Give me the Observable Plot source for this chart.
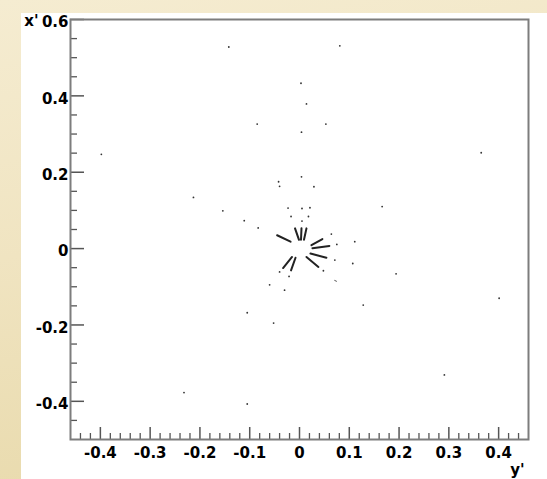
<!DOCTYPE html>
<html>
<head>
<meta charset="utf-8">
<script src="https://cdn.jsdelivr.net/npm/d3@7"></script>
<script src="https://cdn.jsdelivr.net/npm/@observablehq/plot@0.6"></script>
<style>
  html, body { margin: 0; padding: 0; }
  body { width: 547px; height: 479px; position: relative; overflow: hidden;
         background: linear-gradient(170deg, #f5ecd1 0%, #f0e4c1 45%, #e7d8a8 100%); }
  #panel { position: absolute; left: 21px; top: 13px; width: 526px; height: 466px; background: #fff; }
  #chart { position: absolute; left: 0; top: 0; }
</style>
</head>
<body>
<div id="panel"></div>
<div id="chart"></div>
<script>
// Axis ticks and labels
const xTicks = [-0.4, -0.3, -0.2, -0.1, 0, 0.1, 0.2, 0.3, 0.4];
const xTickLabels = ["-0.4", "-0.3", "-0.2", "-0.1", "0", "0.1", "0.2", "0.3", "0.4"];
const yTicks = [-0.4, -0.2, 0, 0.2, 0.4, 0.6];
const yTickLabels = ["-0.4", "-0.2", "0", "0.2", "0.4", "0.6"];
const xMinor = d3.range(-22, 23).filter(i => i % 5 !== 0).map(i => i * 0.02);
const yMinor = d3.range(-9, 12).filter(i => i % 4 !== 0).map(i => i * 0.05);

// Single hits (y' horizontal, x' vertical)
const hitY = [-0.142, 0.081, 0.003, 0.014, -0.085, 0.053, -0.398, 0.365, 0.004, 0.004,
              -0.042, -0.040, 0.029, -0.213, -0.154, -0.111, -0.083, 0.166, -0.023, 0.005,
              0.021, -0.017, 0.018, 0.005, 0.064, 0.075, 0.111, 0.071, 0.107, 0.048,
              -0.040, -0.021, -0.060, -0.030, 0.128, -0.105, -0.052, 0.194, 0.401, 0.291,
              -0.232, -0.105];
const hitX = [0.528, 0.531, 0.433, 0.379, 0.326, 0.326, 0.247, 0.251, 0.305, 0.188,
              0.175, 0.163, 0.162, 0.134, 0.099, 0.073, 0.054, 0.110, 0.106, 0.105,
              0.107, 0.084, 0.084, 0.072, 0.038, 0.011, 0.018, -0.030, -0.039, -0.058,
              -0.061, -0.073, -0.095, -0.109, -0.148, -0.168, -0.195, -0.066, -0.130, -0.331,
              -0.377, -0.407];

// Short track segments around the origin
const trackY1 = [-0.045, -0.009, 0.004, 0.014, 0.046, 0.060, 0.054, 0.038, -0.015, -0.008];
const trackX1 = [0.035, 0.053, 0.053, 0.053, 0.025, 0.007, -0.024, -0.048, -0.022, -0.024];
const trackY2 = [-0.018, -0.001, 0.003, 0.009, 0.024, 0.026, 0.022, 0.014, -0.033, -0.017];
const trackX2 = [0.018, 0.023, 0.023, 0.023, 0.009, 0.001, -0.013, -0.022, -0.051, -0.057];

// Very short stub
const stubY1 = [0.070];
const stubX1 = [-0.083];
const stubY2 = [0.075];
const stubX2 = [-0.086];

const hits = hitY.map((v, i) => ({yp: v, xp: hitX[i]}));
const tracks = trackY1.map((v, i) => ({y1: v, x1: trackX1[i], y2: trackY2[i], x2: trackX2[i]}));
const stubs = stubY1.map((v, i) => ({y1: v, x1: stubX1[i], y2: stubY2[i], x2: stubX2[i]}));

const chart = Plot.plot({
  width: 547,
  height: 479,
  marginLeft: 70,
  marginRight: 19,
  marginTop: 19,
  marginBottom: 40,
  x: {domain: [-0.46, 0.46]},
  y: {domain: [-0.5, 0.6]},
  style: {background: "transparent", fontFamily: "'DejaVu Sans', sans-serif", fontWeight: "bold", fontSize: "15px", color: "#000", overflow: "visible"},
  marks: [
    Plot.tickX(xMinor, {x: d => d, insetTop: 414, stroke: "#555", strokeWidth: 1.3}),
    Plot.tickX(xTicks, {x: d => d, insetTop: 408, stroke: "#555", strokeWidth: 1.5}),
    Plot.tickY(yMinor, {y: d => d, insetRight: 451, stroke: "#555", strokeWidth: 1.3}),
    Plot.tickY(yTicks, {y: d => d, insetRight: 444, stroke: "#555", strokeWidth: 1.5}),
    Plot.axisX(xTicks, {tickSize: 0, tickPadding: 8, tickFormat: d => xTickLabels[xTicks.indexOf(d)], fill: "#000"}),
    Plot.axisY(yTicks, {tickSize: 0, tickPadding: 2, dy: 3, tickFormat: d => yTickLabels[yTicks.indexOf(d)], fill: "#000"}),
    Plot.link(tracks, {x1: "y1", y1: "x1", x2: "y2", y2: "x2", stroke: "#222", strokeWidth: 2, strokeLinecap: "round"}),
    Plot.link(stubs, {x1: "y1", y1: "x1", x2: "y2", y2: "x2", stroke: "#555", strokeWidth: 1}),
    Plot.dot(hits, {x: "yp", y: "xp", r: 0.9, fill: "#333", stroke: "none"}),
    Plot.frame({stroke: "#7d7d7d", strokeWidth: 2}),
    Plot.text(["x'"], {text: d => d, frameAnchor: "top-left", dx: -32, dy: 2, textAnchor: "end", lineAnchor: "middle", fill: "#000"}),
    Plot.text(["y'"], {text: d => d, frameAnchor: "bottom-right", dx: -4, dy: 31, textAnchor: "end", lineAnchor: "middle", fill: "#000"})
  ]
});
document.getElementById("chart").appendChild(chart);
</script>
</body>
</html>
